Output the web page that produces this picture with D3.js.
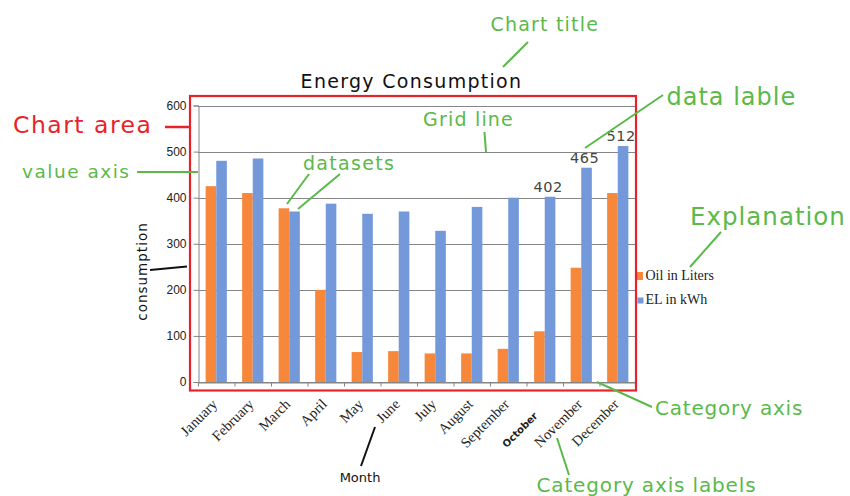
<!DOCTYPE html>
<html><head><meta charset="utf-8">
<script src="https://cdn.jsdelivr.net/npm/d3@7"></script>
<style>
html,body{margin:0;padding:0;background:#fff;}
svg{display:block;}
</style></head>
<body>
<script>
const months = ["January","February","March","April","May","June","July","August","September","October","November","December"];
const oilValues = [425, 410, 377, 200, 65, 67, 62, 62, 72, 110, 248, 410];
const elValues  = [480, 485, 370, 387, 365, 370, 328, 380, 400, 402, 465, 512];
const seriesNames = ["Oil in Liters", "EL in kWh"];
const yTicks = [0, 100, 200, 300, 400, 500, 600];
const labeledMonths = ["October", "November", "December"];
const chartTitle = "Energy Consumption";
const yTitle = "consumption";
const xTitle = "Month";

const W = 850, H = 496;
const colors = {"Oil in Liters": "#f7873b", "EL in kWh": "#7399da"};
const green = "#5bb94a", red = "#e8222b";

const svg = d3.select("body").append("svg").attr("width", W).attr("height", H);
svg.append("rect").attr("width", W).attr("height", H).attr("fill", "#fff");

const plot = {left: 198, right: 636, top: 105.5, bottom: 382};

const x0 = d3.scaleBand().domain(months).range([plot.left, plot.right]).padding(0);
const x1 = d3.scaleBand().domain(seriesNames).range([0, x0.bandwidth()]).paddingInner(0).paddingOuter(0.72);
const y = d3.scaleLinear().domain([0, 600]).range([plot.bottom, plot.top]);

const data = months.map((m, i) => ({month: m, "Oil in Liters": oilValues[i], "EL in kWh": elValues[i]}));

// gridlines
svg.append("g").selectAll("line").data(yTicks).join("line")
  .attr("x1", plot.left).attr("x2", plot.right)
  .attr("y1", d => Math.round(y(d)) + 0.5).attr("y2", d => Math.round(y(d)) + 0.5)
  .attr("stroke", "#858585").attr("stroke-width", 1);

// y axis
const yAxis = d3.axisLeft(y).tickValues(yTicks).tickSize(5).tickPadding(7);
const gy = svg.append("g").attr("transform", `translate(${plot.left + 0.5},0)`).call(yAxis);
gy.select(".domain").attr("stroke", "#858585");
gy.selectAll(".tick line").attr("stroke", "#858585");
gy.selectAll(".tick text").attr("font-family", "Liberation Sans, Arial, sans-serif").attr("font-size", 12).attr("fill", "#222");

// bars
const groups = svg.append("g").selectAll("g").data(data).join("g")
  .attr("transform", d => `translate(${x0(d.month)},0)`);
groups.selectAll("rect").data(d => seriesNames.map(k => ({key: k, value: d[k], month: d.month}))).join("rect")
  .attr("x", d => x1(d.key)).attr("width", x1.bandwidth())
  .attr("y", d => y(d.value)).attr("height", d => y(0) - y(d.value))
  .attr("fill", d => colors[d.key]);

// x axis
const xAxis = d3.axisBottom(x0).tickSize(0).tickFormat("");
const gx = svg.append("g").attr("transform", `translate(0,${Math.round(y(0)) + 0.5})`).call(xAxis);
gx.select(".domain").attr("stroke", "#858585");
gx.selectAll(".tick").remove();
gx.selectAll("line.bt").data(d3.range(months.length + 1)).join("line").attr("class", "bt")
  .attr("x1", i => plot.left + i * x0.step() + 0.5).attr("x2", i => plot.left + i * x0.step() + 0.5)
  .attr("y1", 0).attr("y2", 4).attr("stroke", "#858585");

// month labels
svg.append("g").selectAll("text").data(months).join("text")
  .attr("transform", d => {
    const cx = x0(d) + x0.bandwidth() / 2;
    if (d === "October") return `translate(${cx - 6.5},${416.5}) rotate(-45)`;
    return `translate(${cx + 2},${405}) rotate(-45)`;
  })
  .attr("text-anchor", "end")
  .attr("font-family", d => d === "October" ? "DejaVu Sans, Verdana, sans-serif" : "Liberation Serif, Times New Roman, serif")
  .attr("font-weight", d => d === "October" ? "bold" : "normal")
  .attr("font-size", d => d === "October" ? 10 : 14.5)
  .attr("fill", "#222")
  .text(d => d);

// data labels
svg.append("g").selectAll("text").data(data.filter(d => labeledMonths.includes(d.month))).join("text")
  .attr("x", d => x0(d.month) + x1("EL in kWh") + x1.bandwidth() / 2 - 2)
  .attr("y", d => y(d["EL in kWh"]) - 5)
  .attr("text-anchor", "middle")
  .attr("font-family", "DejaVu Sans, Verdana, sans-serif").attr("font-size", 14.5)
  .attr("fill", "#444").attr("letter-spacing", 0.5)
  .text(d => d["EL in kWh"]);

// title
svg.append("text").attr("x", 411.5).attr("y", 88).attr("text-anchor", "middle")
  .attr("font-family", "DejaVu Sans, Verdana, sans-serif").attr("font-size", 19).attr("letter-spacing", 1.3)
  .attr("fill", "#111").text(chartTitle);

// y title
svg.append("text").attr("transform", "translate(147,271.5) rotate(-90)").attr("text-anchor", "middle")
  .attr("font-family", "DejaVu Sans, Verdana, sans-serif").attr("font-size", 13.5).attr("letter-spacing", 1)
  .attr("fill", "#111").text(yTitle);
// x title
svg.append("text").attr("x", 360).attr("y", 481.5).attr("text-anchor", "middle")
  .attr("font-family", "DejaVu Sans, Verdana, sans-serif").attr("font-size", 13)
  .attr("fill", "#111").text(xTitle);

// legend
const legend = svg.append("g");
legend.append("rect").attr("x", 636).attr("y", 272).attr("width", 7).attr("height", 8).attr("fill", colors["Oil in Liters"]);
legend.append("rect").attr("x", 637.5).attr("y", 297.5).attr("width", 6).attr("height", 6).attr("fill", colors["EL in kWh"]);
legend.selectAll("text").data(seriesNames).join("text")
  .attr("x", 645.5).attr("y", (d, i) => i === 0 ? 280 : 304)
  .attr("font-family", "Liberation Serif, Times New Roman, serif").attr("font-size", 14)
  .attr("fill", "#222").text(d => d);

// chart area box
svg.append("rect").attr("x", 190).attr("y", 96).attr("width", 446).attr("height", 294.5)
  .attr("fill", "none").attr("stroke", red).attr("stroke-width", 2.2);

// annotations
const ann = svg.append("g");
function label(txt, x, yy, size, ls, color) {
  ann.append("text").attr("x", x).attr("y", yy).attr("font-family", "DejaVu Sans, Verdana, sans-serif")
    .attr("font-size", size).attr("letter-spacing", ls).attr("fill", color).text(txt);
}
function line(x1_, y1_, x2_, y2_, color, w) {
  ann.append("line").attr("x1", x1_).attr("y1", y1_).attr("x2", x2_).attr("y2", y2_)
    .attr("stroke", color).attr("stroke-width", w || 2);
}
label("Chart title", 490.5, 31, 19, 1.2, green);
line(503, 67, 528, 42, green);
label("Chart area", 13, 133, 23.5, 1.5, red);
line(165, 127, 190, 127, red, 2.5);
label("value axis", 22, 177.5, 18.5, 1.5, green);
line(137, 172, 198, 172, green);
label("datasets", 303, 170, 19, 1.3, green);
line(309, 174, 287, 204, green);
line(340, 174, 298, 209, green);
label("Grid line", 423, 126, 19, 1.2, green);
line(484.5, 132, 486, 152, green);
label("data lable", 666.5, 105, 24, 1, green);
line(663, 95, 585, 148, green);
label("Explanation", 690, 225, 24.5, 1, green);
line(721, 232, 690, 267, green);
label("Category axis", 655, 415, 20, 0.8, green);
line(652, 407, 597, 382, green);
label("Category axis labels", 536.5, 492, 20, 0.85, green);
line(569, 475, 557, 438, green);
// black pointers
line(150, 270, 187, 266.5, "#111", 2);
line(361, 466, 375, 427, "#111", 2);
</script>
</body></html>
